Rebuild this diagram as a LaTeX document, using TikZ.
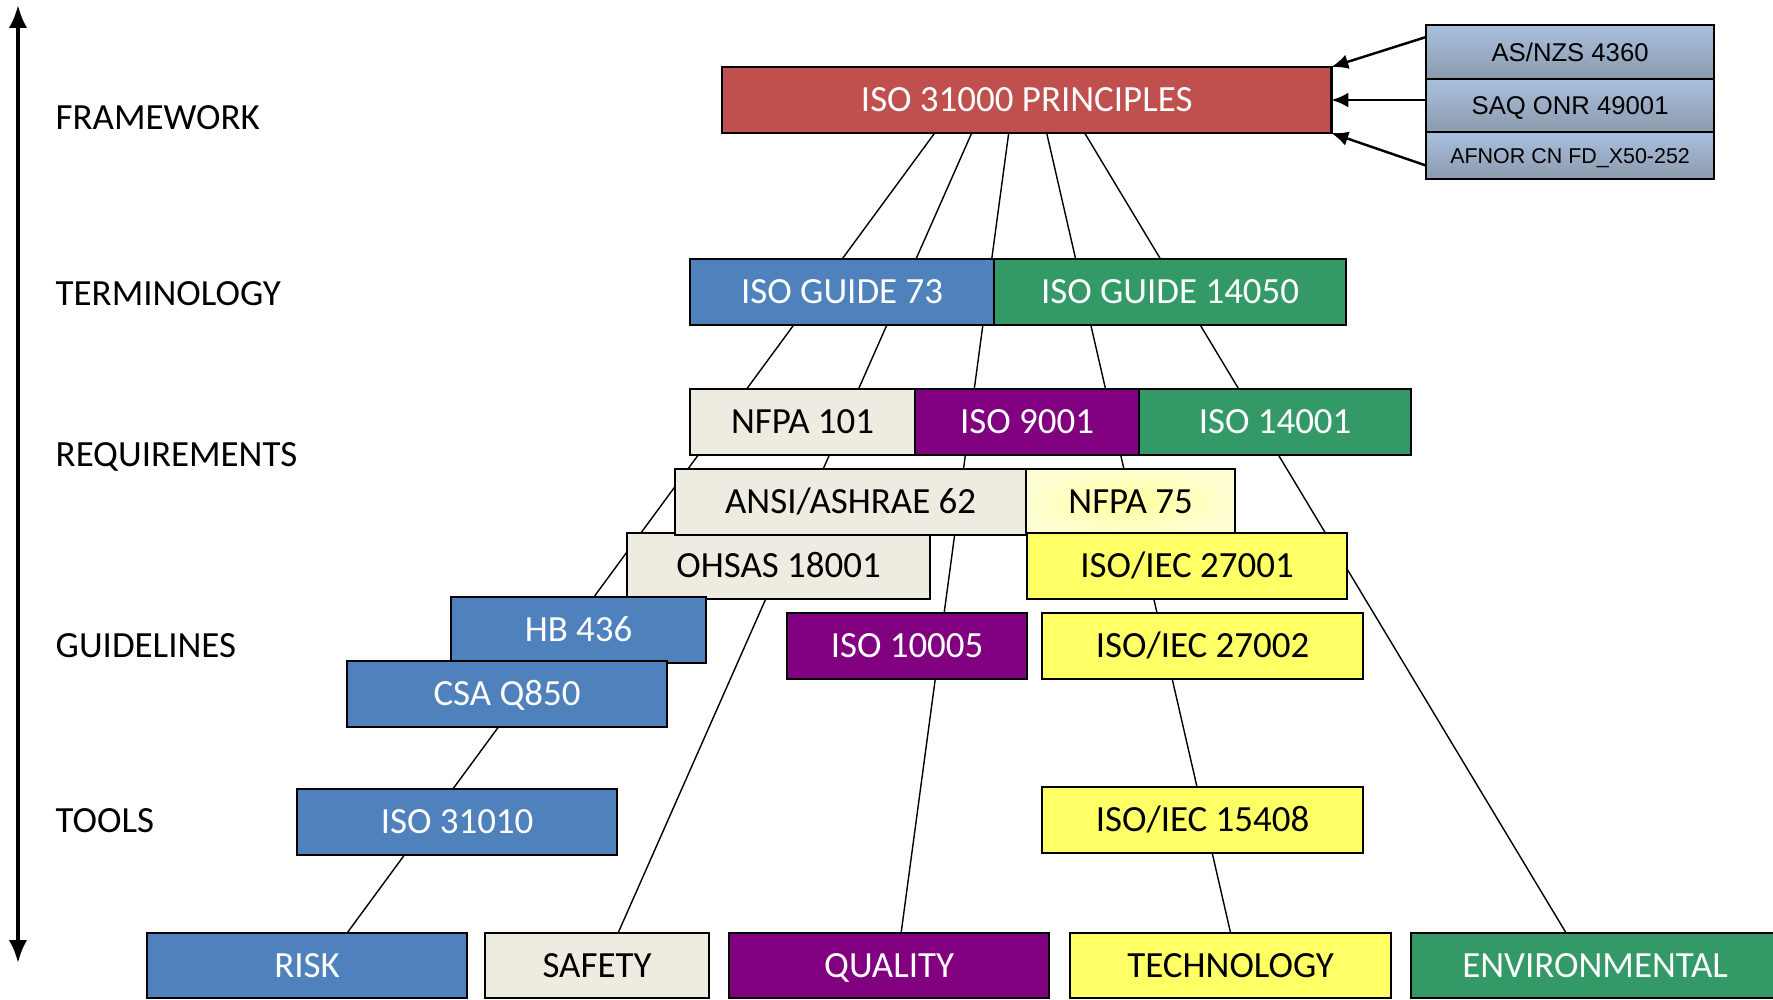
\documentclass[tikz,border=0pt]{standalone}
\usepackage{fontspec}
\setmainfont{Carlito}
\newfontfamily\arialfont{Liberation Sans}
\usetikzlibrary{arrows.meta, calc, backgrounds}

\definecolor{riskred}{HTML}{C0504D}
\definecolor{riskblue}{HTML}{4F81BD}
\definecolor{envgreen}{HTML}{339966}
\definecolor{qualpurple}{HTML}{800080}
\definecolor{safebeige}{HTML}{EEECE1}
\definecolor{techyellow}{HTML}{FFFF66}
\definecolor{glowyellow}{HTML}{FFFF9E}
\definecolor{paleyellow}{HTML}{FFFFD2}
\definecolor{greytop}{HTML}{A9C0DE}
\definecolor{greybot}{HTML}{8C9AAC}

\begin{document}
\begin{tikzpicture}[x=0.01cm, y=-0.01cm,
    box/.style={draw, line width=0.65pt, anchor=north west, inner sep=0pt, outer sep=0pt,
      minimum height=0.66cm, font=\fontsize{10.5}{12}\selectfont, text height=6.6pt, text depth=0pt},
    dark/.style={box, text=white},
    level/.style={anchor=west, inner sep=0pt, font=\fontsize{10.5}{12}\selectfont,
      text height=6.6pt, text depth=0pt},
    national/.style={box, top color=greytop, bottom color=greybot, minimum width=2.88cm,
      font=\arialfont\fontsize{7.3}{9}\selectfont, text height=5.2pt},
    feed/.style={line width=0.7pt, -{Latex[length=4.8pt, width=4.2pt]}},
    thread/.style={line width=0.4pt}]

  \useasboundingbox (0,0) rectangle (1773,999);

  % axis
  \coordinate (up) at (18,5);
  \coordinate (down) at (18,963);
  \draw[line width=1.1pt, {Latex[length=6.5pt, width=5.2pt]}-{Latex[length=6.5pt, width=5.2pt]}] (down) -- (up);

  \node[level] (fw) at (55,118) {FRAMEWORK};
  \node[level] (term) at (55,294) {TERMINOLOGY};
  \node[level] (req) at (55,455) {REQUIREMENTS};
  \node[level] (guide) at (55,646) {GUIDELINES};
  \node[level] (tools) at (55,821) {TOOLS};

  % framework
  \node[dark, fill=riskred, minimum width=6.09cm] (iso) at (722,67) {ISO 31000 PRINCIPLES};
  \node[national, minimum height=0.54cm] (asnzs) at (1426,25) {AS/NZS 4360};
  \node[national, minimum height=0.53cm] (saq) at (1426,79) {SAQ ONR 49001};
  \node[national, minimum height=0.47cm, font=\arialfont\fontsize{6.1}{8}\selectfont, text height=4.4pt] (afnor) at (1426,132) {AFNOR CN FD\_X50-252};

  % terminology
  \node[dark, fill=riskblue, minimum width=3.04cm] (guide73) at (690,259) {ISO GUIDE 73};
  \node[dark, fill=envgreen, minimum width=3.52cm] (guide14050) at (994,259) {ISO GUIDE 14050};

  % requirements
  \node[box, fill=safebeige, minimum width=2.25cm] (nfpa101) at (690,389) {NFPA 101};
  \node[dark, fill=qualpurple, minimum width=2.24cm] (iso9001) at (915,389) {ISO 9001};
  \node[dark, fill=envgreen, minimum width=2.72cm] (iso14001) at (1139,389) {ISO 14001};
  \node[box, fill=safebeige, minimum width=3.03cm] (ohsas) at (627,533) {OHSAS 18001};
  \node[box, fill=safebeige, minimum width=3.51cm] (ansi) at (675,469) {ANSI/ASHRAE 62};
  \node[box, inner color=glowyellow, outer color=paleyellow, minimum width=2.09cm] (nfpa75) at (1026,469) {NFPA 75};
  \node[box, fill=techyellow, minimum width=3.20cm] (iec27001) at (1027,533) {ISO/IEC 27001};

  % guidelines
  \node[dark, fill=riskblue, minimum width=2.55cm] (hb436) at (451,597) {HB 436};
  \node[dark, fill=riskblue, minimum width=3.20cm] (csa) at (347,661) {CSA Q850};
  \node[dark, fill=qualpurple, minimum width=2.40cm] (iso10005) at (787,613) {ISO 10005};
  \node[box, fill=techyellow, minimum width=3.21cm] (iec27002) at (1042,613) {ISO/IEC 27002};

  % tools
  \node[dark, fill=riskblue, minimum width=3.20cm] (iso31010) at (297,789) {ISO 31010};
  \node[box, fill=techyellow, minimum width=3.21cm] (iec15408) at (1042,787) {ISO/IEC 15408};

  % categories
  \node[dark, fill=riskblue, minimum width=3.20cm, minimum height=0.65cm] (risk) at (147,933) {RISK};
  \node[box, fill=safebeige, minimum width=2.24cm, minimum height=0.65cm] (safety) at (485,933) {SAFETY};
  \node[dark, fill=qualpurple, minimum width=3.20cm, minimum height=0.65cm] (quality) at (729,933) {QUALITY};
  \node[box, fill=techyellow, minimum width=3.21cm, minimum height=0.65cm] (tech) at (1070,933) {TECHNOLOGY};
  \node[dark, fill=envgreen, minimum width=3.68cm, minimum height=0.65cm] (env) at (1411,933) {ENVIRONMENTAL};

  \draw[feed] ($(asnzs.west)+(0,-15)$) -- (iso.north east);
  \draw[feed] (iso.east -| saq.west) -- (iso.east);
  \draw[feed] ($(afnor.west)+(0,10)$) -- (iso.south east);

  % threads behind the boxes
  \begin{scope}[on background layer]
    \draw[thread] ($(iso.south)+(-92,0)$) -- ($(risk.north)+(40,0)$);
    \draw[thread] ($(iso.south)+(-55,0)$) -- ($(safety.north)+(21,0)$);
    \draw[thread] ($(iso.south)+(-18,0)$) -- ($(quality.north)+(12,0)$);
    \draw[thread] ($(iso.south)+(20,0)$) -- (tech.north);
    \draw[thread] ($(iso.south)+(58,0)$) -- ($(env.north)+(-29,0)$);
  \end{scope}
\end{tikzpicture}
\end{document}
